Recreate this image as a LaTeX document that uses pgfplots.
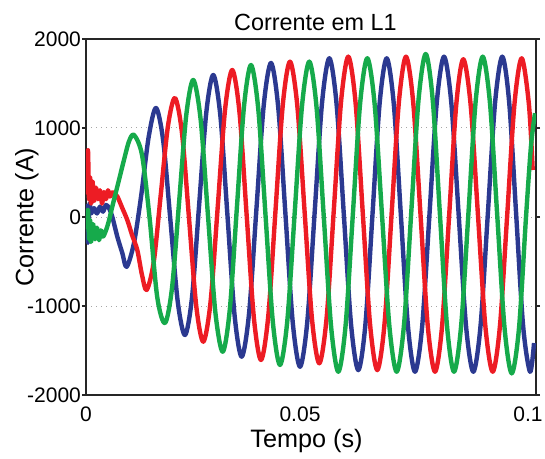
\documentclass[border=0pt]{standalone}
\usepackage{pgfplots}
\pgfplotsset{compat=1.18}
\usepackage{fontspec}
\setmainfont{Liberation Sans}
\definecolor{faseA}{RGB}{43,57,144}
\definecolor{faseB}{RGB}{237,28,36}
\definecolor{faseC}{RGB}{22,170,75}

\begin{document}
\begin{tikzpicture}
\begin{axis}[
    name=ax,
    scale only axis, width=225pt, height=178pt,
    xmin=0, xmax=0.1, ymin=-2000, ymax=2000,
    xtick={0,0.05,0.1}, xticklabels={{0},{\kern-11pt 0.05},{\kern-8pt 0.1}},
    ytick={-2000,-1000,0,1000,2000}, yticklabels={-2000,-1000,0,1000,2000},
    ymajorgrids,
    grid style={gray!70, line width=0.5pt, dash pattern=on 0.5pt off 2pt},
    axis line style={line width=1pt, black!85},
    x tick style={draw=none},
    y tick style={black!85, line width=0.8pt},
    ytick align=outside, major tick length=2pt,
    ticklabel style={font=\fontsize{10.5}{12}\selectfont},
    xticklabel style={anchor=base, yshift=-13.3pt},
    yticklabel style={xshift=3pt},
    every axis title/.style={at={(axis description cs:0.51,1)}, anchor=south, yshift=0.5pt, font=\fontsize{11.7}{14}\selectfont},
    every axis x label/.style={at={(axis description cs:0.49,0)}, anchor=base, yshift=-26pt, font=\fontsize{12.6}{15}\selectfont},
    every axis y label/.style={at={(axis description cs:-0.117,0.5)}, anchor=base, rotate=90, font=\fontsize{12.6}{15}\selectfont},
    title={Corrente em L1}, xlabel={Tempo (s)}, ylabel={Corrente (A)},
    every axis plot/.append style={smooth, line width=2.2pt, line join=round, no markers},
]
% fase azul
\addplot[color=faseA] coordinates {
(0,100)(0.00022,100)(0.00044,-290)(0.00078,150)(0.00111,40)(0.00178,100)(0.00244,40)(0.00311,116)(0.00378,60)(0.00444,135)(0.00511,100)(0.00584,3)(0.00696,-221)(0.00807,-405)(0.00904,-560)(0.01067,-290)(0.01229,250)(0.01393,900)(0.01556,1225)
(0.01717,851)(0.01878,-50)(0.02039,-952)(0.02200,-1326)
(0.02357,-898)(0.02514,135)(0.02672,1168)(0.02829,1596)
(0.02987,1132)(0.03144,13)(0.03302,-1106)(0.03460,-1570)
(0.03623,-1086)(0.03786,80)(0.03948,1247)(0.04111,1731)
(0.04272,1231)(0.04433,24)(0.04594,-1183)(0.04756,-1683)
(0.04918,-1175)(0.05081,50)(0.05244,1276)(0.05407,1784)
(0.05568,1271)(0.05729,32)(0.05890,-1207)(0.06051,-1720)
(0.06209,-1207)(0.06367,32)(0.06524,1271)(0.06682,1784)
(0.06840,1268)(0.06997,22)(0.07154,-1223)(0.07311,-1739)
(0.07472,-1220)(0.07633,31)(0.07794,1283)(0.07956,1802)
(0.08118,1283)(0.08281,31)(0.08444,-1220)(0.08607,-1739)
(0.08768,-1220)(0.08929,31)(0.09090,1283)(0.09251,1802)
(0.09405,1283)(0.09559,31)(0.09713,-1220)(0.09867,-1739)
(0.09956,-1416)
};
% fase vermelha
\addplot[color=faseB] coordinates {
(0,300)(0.00022,300)(0.00044,750)(0.00067,200)(0.00089,450)(0.00111,150)(0.00144,400)(0.00178,180)(0.00222,330)(0.00267,200)(0.00311,300)(0.00356,150)(0.00400,280)(0.00444,200)(0.00489,300)(0.00533,230)(0.00600,280)(0.00696,230)(0.00807,100)(0.00918,-34)(0.01022,-200)(0.01140,-371)(0.01244,-650)(0.01349,-820)
(0.01506,-504)(0.01663,258)(0.01821,1021)(0.01978,1337)
(0.02135,936)(0.02292,-32)(0.02450,-1000)(0.02607,-1401)
(0.02768,-954)(0.02929,125)(0.03090,1205)(0.03251,1652)
(0.03411,1175)(0.03570,22)(0.03730,-1130)(0.03889,-1607)
(0.04050,-1116)(0.04211,70)(0.04372,1255)(0.04533,1746)
(0.04696,1249)(0.04859,51)(0.05022,-1147)(0.05184,-1644)
(0.05346,-1139)(0.05507,79)(0.05668,1297)(0.05829,1802)
(0.05990,1286)(0.06151,41)(0.06312,-1204)(0.06473,-1720)
(0.06633,-1204)(0.06792,41)(0.06952,1286)(0.07111,1802)
(0.07272,1283)(0.07433,31)(0.07594,-1220)(0.07756,-1739)
(0.07913,-1224)(0.08070,17)(0.08227,1258)(0.08384,1773)
(0.08548,1258)(0.08711,17)(0.08874,-1224)(0.09038,-1739)
(0.09199,-1223)(0.09360,22)(0.09521,1268)(0.09682,1784)
(0.09842,1268)(0.09927,528)
};
% fase verde
\addplot[color=faseC] coordinates {
(0,-100)(0.00022,-100)(0.00044,80)(0.00067,-250)(0.00089,-30)(0.00111,-280)(0.00156,-80)(0.00200,-250)(0.00244,-120)(0.00289,-260)(0.00333,-150)(0.00378,-220)(0.00444,-150)(0.00511,-40)(0.00584,116)(0.00696,341)(0.00844,641)(0.00956,850)(0.01067,922)
(0.01244,700)(0.01411,0)(0.01583,-900)(0.01756,-1191)
(0.01913,-791)(0.02070,174)(0.02227,1140)(0.02384,1540)
(0.02548,1093)(0.02711,13)(0.02874,-1067)(0.03038,-1514)
(0.03195,-1042)(0.03352,97)(0.03510,1236)(0.03667,1708)
(0.03828,1214)(0.03989,22)(0.04150,-1169)(0.04311,-1663)
(0.04474,-1164)(0.04637,41)(0.04800,1247)(0.04962,1746)
(0.05123,1235)(0.05284,3)(0.05446,-1228)(0.05607,-1739)
(0.05768,-1223)(0.05929,22)(0.06090,1268)(0.06251,1784)
(0.06414,1268)(0.06578,22)(0.06741,-1223)(0.06904,-1739)
(0.07066,-1216)(0.07227,46)(0.07388,1309)(0.07549,1832)
(0.07706,1309)(0.07863,46)(0.08021,-1216)(0.08178,-1739)
(0.08337,-1220)(0.08497,31)(0.08656,1283)(0.08816,1802)
(0.08977,1281)(0.09138,22)(0.09299,-1236)(0.09460,-1757)
(0.09622,-1250)(0.09778,0)(0.09889,800)(0.09978,1166)
};
\end{axis}
\pgfresetboundingbox
\path[use as bounding box] ([shift={(-43pt,-32pt)}]ax.south west) rectangle ([shift={(4.5pt,19.5pt)}]ax.north east);
\end{tikzpicture}
\end{document}
